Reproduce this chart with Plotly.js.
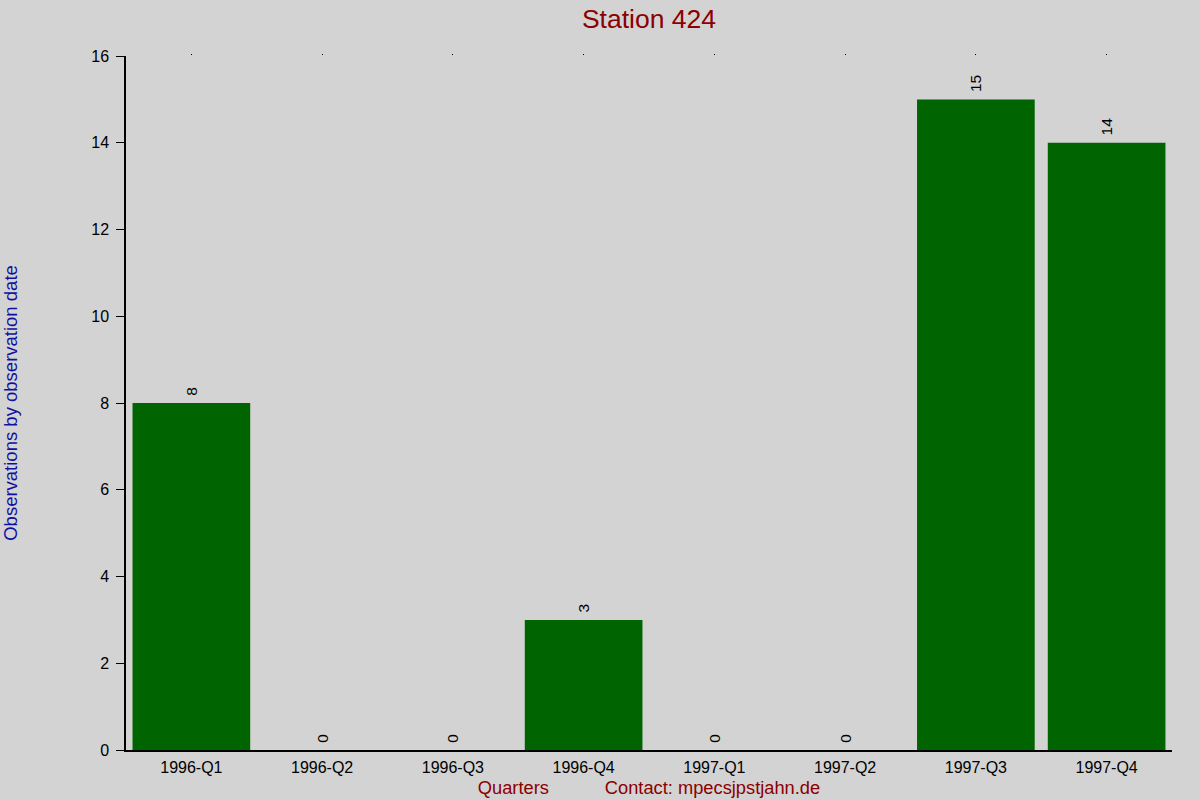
<!DOCTYPE html>
<html>
<head>
<meta charset="utf-8">
<script src="https://cdn.plot.ly/plotly-3.0.1.min.js"></script>
<style>
  html, body { margin: 0; padding: 0; background: #d3d3d3; }
  #chart { width: 1200px; height: 800px; }
</style>
</head>
<body>
<div id="chart"></div>
<script>
// ------------------------------
// Observations per quarter
// ------------------------------
var quarters = ['1996-Q1', '1996-Q2', '1996-Q3', '1996-Q4', '1997-Q1', '1997-Q2', '1997-Q3', '1997-Q4'];
var counts = [8, 0, 0, 3, 0, 0, 15, 14];
var yTicks = [0, 2, 4, 6, 8, 10, 12, 14, 16];

var gap = '\u00a0'.repeat(11);

var bars = {
  x: quarters,
  y: counts,
  type: 'bar',
  marker: { color: '#006400' },
  // a leading space pushes the rotated label up off the bar
  text: counts.map(function (c) { return '\u00a0' + c; }),
  textposition: 'outside',
  textangle: -90,
  cliponaxis: false,
  textfont: { family: 'Liberation Sans, Arial, sans-serif', size: 15.5, color: '#000000' },
  hoverinfo: 'x+y'
};

// tiny tick dots along the top edge
var topTicks = {
  x: quarters,
  y: counts,
  type: 'bar',
  xaxis: 'x2',
  marker: { color: 'rgba(0,0,0,0)' },
  hoverinfo: 'skip',
  showlegend: false
};

var layout = {
  width: 1200,
  height: 800,
  paper_bgcolor: '#d3d3d3',
  plot_bgcolor: '#d3d3d3',
  margin: { l: 126, r: 28, t: 56, b: 50 },
  showlegend: false,
  bargap: 0.1,
  barmode: 'overlay',
  font: { family: 'Liberation Sans, Arial, sans-serif', size: 16, color: '#000000' },
  title: {
    text: 'Station 424',
    font: { size: 26.5, color: '#8b0000' },
    x: 0.5408,
    xanchor: 'center',
    y: 0.977,
    yanchor: 'middle'
  },
  xaxis: {
    type: 'category',
    range: [-0.5, 7.5],
    showline: true,
    linecolor: '#000000',
    linewidth: 1.5,
    ticks: '',
    showgrid: false,
    zeroline: false,
    tickfont: { size: 16 },
    ticklabelstandoff: 2,
    title: {
      text: 'Quarters' + gap + 'Contact: mpecsjpstjahn.de',
      font: { size: 18.3, color: '#8b0000' },
      standoff: 6
    }
  },
  xaxis2: {
    type: 'category',
    overlaying: 'x',
    side: 'top',
    range: [-0.5, 7.5],
    showline: false,
    showgrid: false,
    zeroline: false,
    ticks: 'outside',
    ticklen: 1,
    tickcolor: '#000000',
    showticklabels: false
  },
  yaxis: {
    range: [0, 16],
    tickvals: yTicks,
    showline: true,
    linecolor: '#000000',
    linewidth: 1.5,
    ticks: 'outside',
    ticklen: 8,
    tickcolor: '#000000',
    showgrid: false,
    zeroline: false,
    tickfont: { size: 16 },
    ticklabelstandoff: 4,
    title: {
      text: 'Observations by observation date',
      font: { size: 18.5, color: '#1010a0' },
      standoff: 80
    }
  }
};

Plotly.newPlot('chart', [bars, topTicks], layout, { displayModeBar: false });
</script>
</body>
</html>
